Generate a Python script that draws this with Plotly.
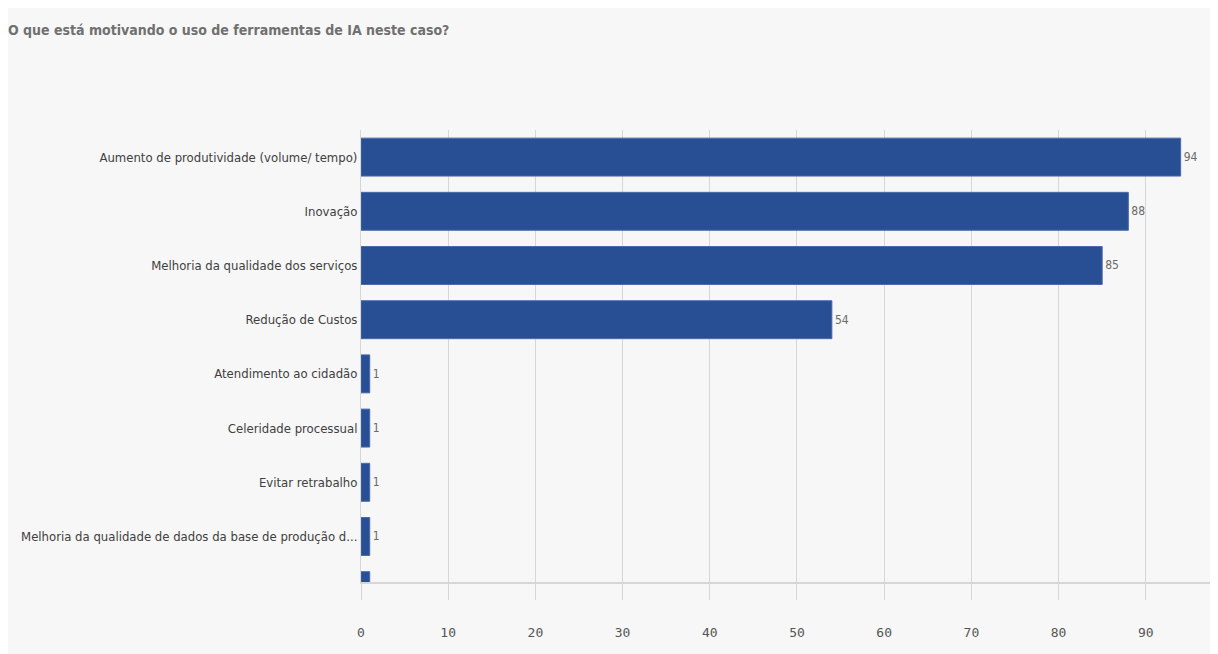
import plotly.graph_objects as go

categories = [
    "Aumento de produtividade (volume/ tempo)",
    "Inovação",
    "Melhoria da qualidade dos serviços",
    "Redução de Custos",
    "Atendimento ao cidadão",
    "Celeridade processual",
    "Evitar retrabalho",
    "Melhoria da qualidade de dados da base de produção d...",
    "Outros",
]
values = [94, 88, 85, 54, 1, 1, 1, 1, 1]
tick_vals = [0, 10, 20, 30, 40, 50, 60, 70, 80, 90]

TITLE = "O que está motivando o uso de ferramentas de IA neste caso?"
FONT = "DejaVu Sans Condensed, Liberation Sans Narrow, sans-serif"
BG = "#f7f7f7"
GRID = "#d6d6d6"

fig = go.Figure(
    go.Bar(
        x=values,
        y=categories,
        orientation="h",
        marker=dict(color="#284f93", line=dict(color="#4a6aa8", width=1)),
        width=0.7,
        text=[str(v) for v in values],
        textposition="outside",
        textfont=dict(family=FONT, size=12, color="#6a6a6a"),
        cliponaxis=True,
    )
)

fig.update_layout(
    width=1218,
    height=654,
    paper_bgcolor=BG,
    plot_bgcolor=BG,
    margin=dict(l=353, r=0, t=122, b=80, autoexpand=False),
    showlegend=False,
    title=dict(
        text="<b>" + TITLE + "</b>",
        x=0.0, xanchor="left", y=0.966, yanchor="middle",
        font=dict(family=FONT, size=14, color="#707070"),
    ),
    font=dict(family=FONT),
)

fig.update_xaxes(
    range=[0, 99.2],
    tickvals=tick_vals,
    showgrid=True,
    gridcolor=GRID,
    gridwidth=1,
    zeroline=False,
    showline=True,
    linecolor=GRID,
    linewidth=2,
    ticks="outside",
    ticklen=16,
    tickcolor=GRID,
    ticklabelstandoff=21,
    tickfont=dict(family="DejaVu Sans Mono, monospace", size=13, color="#555555"),
)

fig.update_yaxes(
    categoryorder="array",
    categoryarray=categories,
    range=[7.84, -0.5],
    showgrid=False,
    showline=True,
    linecolor=GRID,
    linewidth=1,
    ticks="",
    ticklabelstandoff=0,
    tickfont=dict(family=FONT, size=13, color="#404040"),
)

fig.write_html("out.html")
